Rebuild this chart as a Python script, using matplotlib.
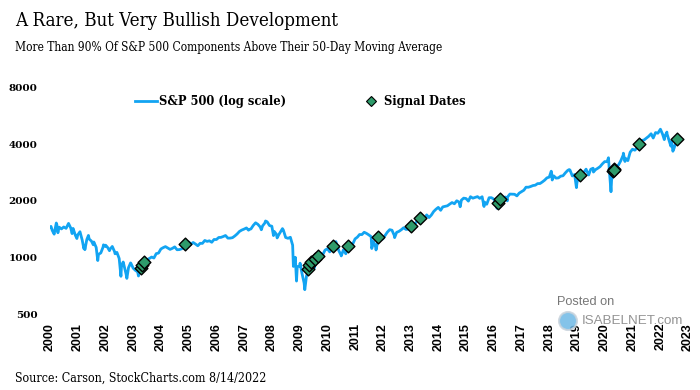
import matplotlib
matplotlib.use('Agg')
import matplotlib.pyplot as plt
import matplotlib.dates as mdates
from matplotlib import font_manager
from matplotlib.lines import Line2D
from matplotlib.patches import Ellipse
import pandas as pd

# S&P 500 month-end closes, Jan 2000 .. Jul 2022
monthly_closes = [
    1394, 1366, 1499, 1452, 1421, 1455, 1431, 1518, 1437, 1429, 1315, 1320,
    1366, 1240, 1160, 1249, 1256, 1224, 1211, 1134, 1041, 1060, 1139, 1148,
    1130, 1107, 1147, 1077, 1067, 990, 912, 916, 815, 886, 936, 880,
    856, 841, 848, 917, 964, 975, 990, 1008, 996, 1051, 1058, 1112,
    1131, 1145, 1126, 1107, 1121, 1141, 1102, 1104, 1115, 1130, 1174, 1212,
    1181, 1204, 1181, 1157, 1192, 1191, 1234, 1220, 1229, 1207, 1249, 1248,
    1280, 1281, 1295, 1311, 1270, 1270, 1277, 1304, 1336, 1378, 1401, 1418,
    1438, 1407, 1421, 1482, 1531, 1503, 1455, 1474, 1527, 1549, 1481, 1468,
    1379, 1331, 1323, 1386, 1400, 1280, 1267, 1283, 1165, 969, 896, 903,
    826, 735, 798, 873, 919, 919, 987, 1021, 1057, 1036, 1096, 1115,
    1074, 1104, 1169, 1187, 1089, 1031, 1102, 1049, 1141, 1183, 1181, 1258,
    1286, 1327, 1326, 1364, 1345, 1321, 1292, 1219, 1131, 1253, 1247, 1258,
    1312, 1366, 1408, 1398, 1310, 1362, 1379, 1407, 1441, 1412, 1416, 1426,
    1498, 1515, 1569, 1598, 1631, 1606, 1686, 1633, 1682, 1757, 1806, 1848,
    1783, 1859, 1872, 1884, 1924, 1960, 1931, 2003, 1972, 2018, 2068, 2059,
    1995, 2105, 2068, 2086, 2107, 2063, 2104, 1972, 1920, 2079, 2080, 2044,
    1940, 1932, 2060, 2065, 2097, 2099, 2174, 2171, 2168, 2126, 2199, 2239,
    2279, 2364, 2363, 2384, 2412, 2423, 2470, 2472, 2519, 2575, 2648, 2674,
    2824, 2714, 2641, 2648, 2705, 2718, 2816, 2902, 2914, 2712, 2760, 2507,
    2704, 2784, 2834, 2946, 2752, 2942, 2980, 2926, 2977, 3038, 3141, 3231,
    3226, 2954, 2585, 2912, 3044, 3100, 3271, 3500, 3363, 3270, 3622, 3756,
    3714, 3811, 3973, 4181, 4204, 4298, 4395, 4523, 4308, 4605, 4567, 4766,
    4516, 4374, 4530, 4132, 4132, 3785, 4130,
]

# intra-month highs / lows, plus the first and last trading days
extra_dates = [
    '2000-01-03', '2000-01-14', '2000-02-25', '2000-03-24', '2000-04-14',
    '2000-09-01', '2000-10-18', '2000-12-20', '2001-01-30', '2001-03-22',
    '2001-04-04', '2001-05-21', '2001-07-24', '2001-09-21', '2001-12-05',
    '2002-01-03', '2002-02-22', '2002-05-07', '2002-07-23', '2002-08-22',
    '2002-10-09', '2002-11-27', '2003-03-11', '2007-02-27', '2007-08-15',
    '2007-10-09', '2008-01-22', '2008-03-10', '2008-05-19', '2008-10-10',
    '2008-11-04', '2008-11-20', '2009-01-06', '2009-03-09', '2009-06-12',
    '2009-07-10', '2010-04-23', '2010-07-02', '2011-04-29', '2011-08-08',
    '2011-10-03', '2012-06-04', '2014-10-15', '2015-08-25', '2016-02-11',
    '2016-06-27', '2018-01-26', '2018-02-08', '2018-09-20', '2018-12-24',
    '2019-06-03', '2019-08-05', '2020-02-19', '2020-03-23', '2020-09-02',
    '2020-09-23', '2021-09-02', '2022-01-03', '2022-02-23', '2022-03-29',
    '2022-05-20', '2022-06-16', '2022-08-12',
]
extra_values = [
    1455, 1465, 1333, 1527, 1356,
    1520, 1342, 1264, 1373, 1117,
    1103, 1312, 1171, 966, 1170,
    1165, 1089, 1049, 797, 949,
    777, 938, 800, 1399, 1406,
    1565, 1310, 1273, 1426, 899,
    1005, 752, 935, 677, 946,
    879, 1217, 1022, 1364, 1119,
    1099, 1278, 1862, 1868, 1829,
    2001, 2873, 2581, 2931, 2351,
    2744, 2844, 3386, 2237, 3580,
    3237, 4537, 4797, 4225, 4632,
    3901, 3667, 4280,
]

signal_dates = [
    '2003-04-08', '2003-04-25', '2003-05-20', '2004-11-10',
    '2009-04-20', '2009-05-08', '2009-06-02', '2009-07-27', '2009-08-24',
    '2010-03-12', '2010-09-24', '2011-10-27', '2013-01-10', '2013-05-08',
    '2016-02-24', '2016-03-18', '2019-02-06',
    '2020-04-17', '2020-04-29', '2020-05-08', '2021-04-01', '2022-08-12',
]
signal_values = [
    880, 915, 950, 1180,
    870, 915, 945, 980, 1025,
    1150, 1148, 1285, 1472, 1630,
    1950, 2049, 2731,
    2875, 2940, 2930, 4000, 4280,
]

year_ticks = list(range(2000, 2024))
y_ticks = [500, 1000, 2000, 4000, 8000]

LINE_BLUE = '#12a4f2'
SIGNAL_GREEN = '#2e9b6b'
W, H = 700, 390

# a condensed slab-ish serif for the headings, if one is installed
_cond = [f.fname for f in font_manager.fontManager.ttflist
         if f.name == 'DejaVu Serif' and 'Condensed' in f.fname
         and 'Bold' not in f.fname and 'Italic' not in f.fname]
if _cond:
    head_font = font_manager.FontProperties(fname=_cond[0])
else:
    head_font = font_manager.FontProperties(family='DejaVu Serif')

month_ends = pd.date_range('2000-01-31', periods=len(monthly_closes), freq='ME')
spx = pd.concat([
    pd.Series(monthly_closes, index=month_ends),
    pd.Series(extra_values, index=pd.to_datetime(extra_dates)),
]).sort_index()

fig = plt.figure(figsize=(W / 100, H / 100), dpi=100)
ax = fig.add_axes([50 / W, 1 - 314.5 / H, 638 / W, 227.2 / H])

ax.plot(spx.index, spx.values, color=LINE_BLUE, linewidth=2.0)
ax.scatter(pd.to_datetime(signal_dates), signal_values, marker='D', s=42,
           facecolor=SIGNAL_GREEN, edgecolor='black', linewidth=1.0, zorder=3)

ax.set_yscale('log')
ax.set_ylim(500, 8000)
ax.set_yticks(y_ticks)
ax.set_yticklabels([str(v) for v in y_ticks])
ax.yaxis.set_minor_locator(matplotlib.ticker.NullLocator())

ax.set_xlim(pd.Timestamp('2000-01-01'), pd.Timestamp('2023-01-01'))
ax.set_xticks([pd.Timestamp(f'{y}-01-01') for y in year_ticks])
ax.xaxis.set_major_formatter(mdates.DateFormatter('%Y'))

for side in ['top', 'right', 'bottom', 'left']:
    ax.spines[side].set_visible(False)
ax.tick_params(axis='both', length=0)
ax.tick_params(axis='y', pad=9)
ax.tick_params(axis='x', pad=6)
for lbl in ax.get_yticklabels():
    lbl.set_family('DejaVu Serif')
    lbl.set_weight('bold')
    lbl.set_fontsize(7.5)
for lbl in ax.get_xticklabels():
    lbl.set_family('Liberation Sans')
    lbl.set_weight('bold')
    lbl.set_fontsize(9)
    lbl.set_rotation(90)

leg_prop = {'family': 'DejaVu Serif', 'weight': 'bold', 'size': 8.3}
leg1 = fig.legend(
    handles=[Line2D([], [], color=LINE_BLUE, linewidth=2.0,
                    label='S&P 500 (log scale)')],
    loc='center left', bbox_to_anchor=(135 / W, 1 - 102 / H), frameon=False,
    borderpad=0, borderaxespad=0, handlelength=1.9, handletextpad=0.15,
    prop=leg_prop)
leg2 = fig.legend(
    handles=[Line2D([], [], linestyle='none', marker='D', markersize=5,
                    markerfacecolor=SIGNAL_GREEN, markeredgecolor='black',
                    markeredgewidth=0.8, label='Signal Dates')],
    loc='center left', bbox_to_anchor=(366 / W, 1 - 102 / H), frameon=False,
    borderpad=0, borderaxespad=0, handlelength=0.9, handletextpad=0.7,
    prop=leg_prop)

title = fig.text(15 / W, 1 - 21 / H, 'A Rare, But Very Bullish Development',
                 fontproperties=head_font, va='center', ha='left')
subtitle = fig.text(15 / W, 1 - 48 / H,
                    'More Than 90% Of S&P 500 Components Above Their 50-Day Moving Average',
                    fontproperties=head_font, va='center', ha='left')
source = fig.text(15 / W, 1 - 378 / H, 'Source: Carson, StockCharts.com 8/14/2022',
                  fontproperties=head_font, va='center', ha='left')

# size each heading so that it spans the same width as in the original
renderer = fig.canvas.get_renderer()
for txt, target_px in [(title, 325), (subtitle, 427), (source, 253)]:
    txt.set_fontsize(12)
    width = txt.get_window_extent(renderer).width
    txt.set_fontsize(12 * target_px / width)

# watermark
fig.text(557 / W, 1 - 302 / H, 'Posted on', family='Liberation Sans',
         fontsize=9.2, color='#777777', va='center', ha='left')
fig.text(582 / W, 1 - 321 / H, 'ISABELNET.com', family='Liberation Sans',
         fontsize=9.6, color='#888888', va='center', ha='left', alpha=0.9)
fig.add_artist(Ellipse((568 / W, 1 - 321 / H), 18 / W, 18 / H,
                       transform=fig.transFigure, facecolor='#6fb9e6',
                       edgecolor='#c9d3dc', linewidth=1.5, alpha=0.85))

fig.savefig('out.png', dpi=100)
